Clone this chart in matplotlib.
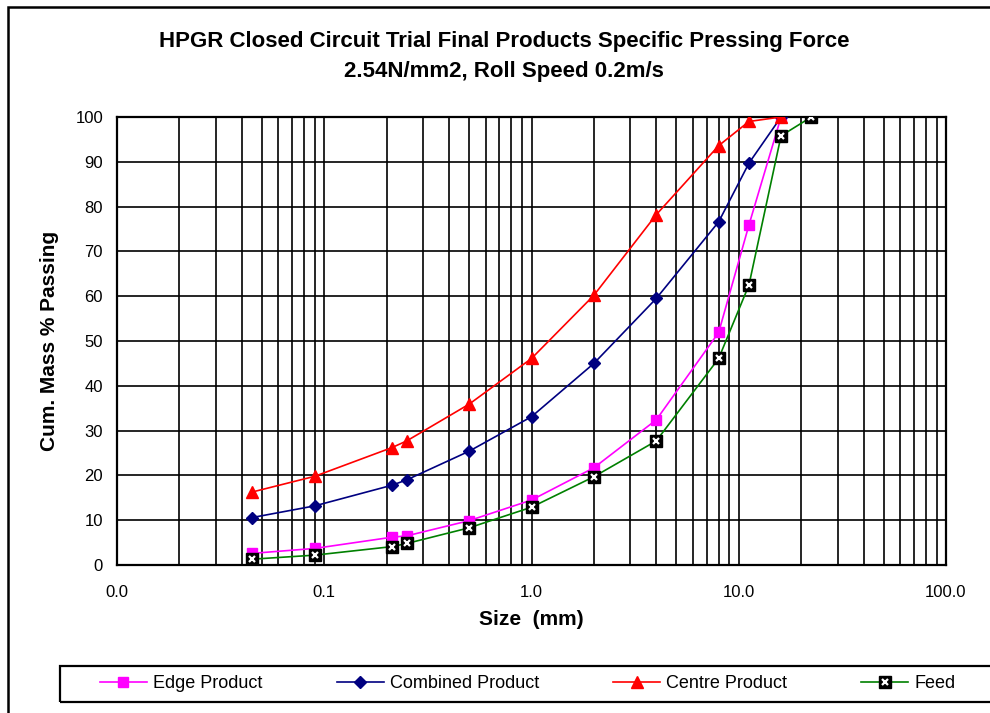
import numpy as np
import matplotlib
matplotlib.use('Agg')
import matplotlib.pyplot as plt
from matplotlib.patches import Rectangle
from matplotlib.ticker import FixedLocator, FuncFormatter, LogLocator

plt.rcParams['font.family'] = ['Liberation Sans', 'DejaVu Sans']

# Sieve sizes (mm)
sizes = [0.045, 0.09, 0.212, 0.25, 0.5, 1.0, 2.0, 4.0, 8.0, 11.2, 16.0]
feed_sizes = sizes + [22.4]

# Cumulative mass % passing
edge = [2.6, 3.7, 6.2, 6.5, 9.9, 14.5, 21.7, 32.4, 51.9, 75.9, 100.0]
combined = [10.6, 13.2, 17.8, 19.0, 25.4, 33.1, 45.0, 59.5, 76.6, 89.7, 100.0]
centre = [16.3, 19.8, 26.2, 27.7, 35.9, 46.1, 60.2, 78.2, 93.6, 99.0, 100.0]
feed = [1.3, 2.2, 4.1, 4.8, 8.3, 12.9, 19.7, 27.7, 46.1, 62.5, 95.8, 100.0]

W, H = 990, 713
fig = plt.figure(figsize=(9.9, 7.13), dpi=100)
ax = fig.add_axes([117/W, 1 - 565/H, (946 - 117)/W, (565 - 117)/H])

# outer chart border (left and top visible)
fig.patches.append(Rectangle((8/W, -0.1), 1.2, 1 - 7/H + 0.1, transform=fig.transFigure,
                             fill=False, edgecolor='black', linewidth=1.8))
# legend box
fig.patches.append(Rectangle((60/W, 1 - 702/H), (1010 - 60)/W, 36/H, transform=fig.transFigure,
                             fill=False, edgecolor='black', linewidth=1.6))

lw = 1.2
l1, = ax.plot(sizes, edge, color='#ff00ff', lw=lw, marker='s', ms=7,
              mfc='#ff00ff', mec='#ff00ff', label='Edge Product', zorder=4)
l2, = ax.plot(sizes, combined, color='#000080', lw=lw, marker='D', ms=6.5,
              mfc='#000080', mec='#000080', label='Combined Product', zorder=4)
l3, = ax.plot(sizes, centre, color='#ff0000', lw=lw, marker='^', ms=9,
              mfc='#ff0000', mec='#ff0000', label='Centre Product', zorder=4)
l4, = ax.plot(feed_sizes, feed, color='#008000', lw=lw, marker='s', ms=9,
              mfc='black', mec='black', zorder=5)
l4x, = ax.plot(feed_sizes, feed, ls='none', marker='x', ms=4, mew=1.6,
               color='white', zorder=6)

ax.set_xscale('log')
ax.set_xlim(0.01, 100)
ax.set_ylim(0, 100)
ax.set_yticks(np.arange(0, 101, 10))
ax.xaxis.set_major_locator(FixedLocator([0.01, 0.1, 1, 10, 100]))
ax.xaxis.set_minor_locator(LogLocator(base=10, subs=np.arange(2, 10)))
ax.xaxis.set_major_formatter(FuncFormatter(lambda v, p: '%.1f' % v))
ax.xaxis.set_minor_formatter(FuncFormatter(lambda v, p: ''))
ax.grid(True, which='both', color='black', lw=1.2)
ax.set_axisbelow(True)
ax.tick_params(which='both', length=0, labelsize=12)
ax.tick_params(axis='x', pad=14.5)
ax.tick_params(axis='y', pad=10)
for s in ax.spines.values():
    s.set_linewidth(1.6)

ax.set_xlabel('Size  (mm)', fontsize=15, fontweight='bold', labelpad=7)
ax.set_ylabel('Cum. Mass % Passing', fontsize=15, fontweight='bold', labelpad=12)

fig.text(504/W, 1 - 42/H, 'HPGR Closed Circuit Trial Final Products Specific Pressing Force',
         ha='center', va='center', fontsize=16, fontweight='bold')
fig.text(504/W, 1 - 71/H, '2.54N/mm2, Roll Speed 0.2m/s',
         ha='center', va='center', fontsize=16, fontweight='bold')

leg = fig.legend([l1, l2, l3, (l4, l4x)],
                 ['Edge Product', 'Combined Product', 'Centre Product', 'Feed'],
                 loc='center left', ncol=4,
                 bbox_to_anchor=(100/W, 1 - 684/H),
                 fontsize=13, frameon=False, borderpad=0, borderaxespad=0,
                 handlelength=2.6, handletextpad=0.35, columnspacing=4.1)

fig.savefig('out.png', dpi=100)
